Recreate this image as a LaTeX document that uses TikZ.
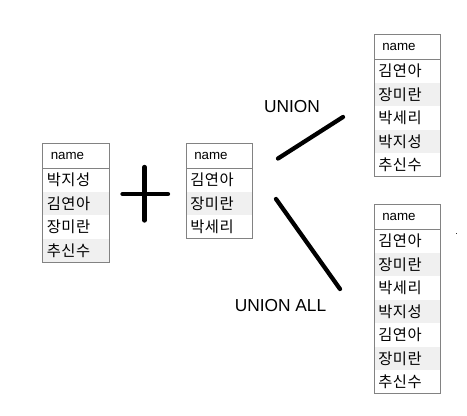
\documentclass[tikz,border=0pt]{standalone}
\usepackage{fontspec}
\setmainfont{Liberation Sans}
\newfontfamily\kr{Noto Sans CJK KR}
\usetikzlibrary{positioning}
\definecolor{tblline}{RGB}{130,130,130}
\definecolor{rowshade}{RGB}{240,240,240}

\begin{document}
\begin{tikzpicture}[x=0.75pt, y=-0.75pt,
    cell/.style ={rectangle, inner sep=0pt, inner xsep=3pt, minimum width=49.5pt,
                  minimum height=17.25pt, text width=43.5pt, align=left,
                  font=\kr\fontsize{11.5}{12}\selectfont\addfontfeature{LetterSpace=4}},
    shade/.style ={cell, fill=rowshade},
    head/.style ={cell, inner xsep=6pt, text width=37.5pt, minimum height=18.4pt,
                  anchor=north west, font=\fontsize{10}{12}\selectfont},
    frame/.style ={draw=tblline, line width=0.75pt},
    bar/.style ={line width=3.2pt, line cap=round},
    setop/.style ={font=\fontsize{13}{15}\selectfont}]
   \useasboundingbox (0,0) rectangle (467,415);

   % first table
   \node[head] (ah) at (42.5,143) {name};
   \node[cell,  below=0pt of ah] (a1) {박지성};
   \node[shade, below=0pt of a1] (a2) {김연아};
   \node[cell,  below=0pt of a2] (a3) {장미란};
   \node[shade, below=0pt of a3] (a4) {추신수};
   \draw[frame] (ah.north west) rectangle (a4.south east);
   \draw[frame] (ah.south west) -- (ah.south east);

   % second table
   \node[head] (bh) at (186,143) {name};
   \node[cell,  below=0pt of bh] (b1) {김연아};
   \node[shade, below=0pt of b1] (b2) {장미란};
   \node[cell,  below=0pt of b2] (b3) {박세리};
   \draw[frame] (bh.north west) rectangle (b3.south east);
   \draw[frame] (bh.south west) -- (bh.south east);

   % union result
   \node[head] (ch) at (374,34) {name};
   \node[cell,  below=0pt of ch] (c1) {김연아};
   \node[shade, below=0pt of c1] (c2) {장미란};
   \node[cell,  below=0pt of c2] (c3) {박세리};
   \node[shade, below=0pt of c3] (c4) {박지성};
   \node[cell,  below=0pt of c4] (c5) {추신수};
   \draw[frame] (ch.north west) rectangle (c5.south east);
   \draw[frame] (ch.south west) -- (ch.south east);

   % union all result
   \node[head] (dh) at (374,204) {name};
   \node[cell,  below=0pt of dh] (d1) {김연아};
   \node[shade, below=0pt of d1] (d2) {장미란};
   \node[cell,  below=0pt of d2] (d3) {박세리};
   \node[shade, below=0pt of d3] (d4) {박지성};
   \node[cell,  below=0pt of d4] (d5) {김연아};
   \node[shade, below=0pt of d5] (d6) {장미란};
   \node[cell,  below=0pt of d6] (d7) {추신수};
   \draw[frame] (dh.north west) rectangle (d7.south east);
   \draw[frame] (dh.south west) -- (dh.south east);

   % plus sign
   \coordinate (pl) at (122.5,194);
   \coordinate (pr) at (168,194);
   \coordinate (pt) at (144.5,167);
   \coordinate (pb) at (144.5,220.5);
   \draw[bar] (pl) -- (pr);
   \draw[bar] (pt) -- (pb);

   % set operations
   \coordinate (u1) at (278,158.5);
   \coordinate (u2) at (343,117);
   \coordinate (v1) at (276,199);
   \coordinate (v2) at (340,289);
   \draw[bar] (u1) -- (u2);
   \draw[bar] (v1) -- (v2);
   \node[setop] (union) at (292,107) {UNION};
   \node[setop] (unionall) at (280.5,306) {UNION ALL};

   \fill[black!80] (455.5,232.5) rectangle (457,234);
\end{tikzpicture}
\end{document}
